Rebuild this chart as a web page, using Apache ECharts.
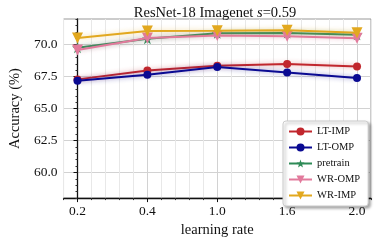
<!DOCTYPE html>
<html><head><meta charset="utf-8">
<script src="https://cdn.jsdelivr.net/npm/echarts@6/dist/echarts.min.js"></script>
<style>html,body{margin:0;padding:0;background:#fff}#c{width:374px;height:243px}</style>
</head><body><div id="c"></div>
<script>
const categories = ['0.2', '0.4', '1.0', '1.6', '2.0'];
const yTickLabels = [60, 62.5, 65, 67.5, 70];
const seriesNames = ['LT-IMP', 'LT-OMP', 'pretrain', 'WR-OMP', 'WR-IMP'];
const ltImp   = [67.28, 67.97, 68.35, 68.48, 68.28];
const ltOmp   = [67.18, 67.64, 68.25, 67.82, 67.39];
const pretrain= [69.75, 70.45, 70.88, 70.9, 70.76];
const wrOmp   = [69.58, 70.52, 70.71, 70.66, 70.5];
const wrImp   = [70.51, 71.06, 71.08, 71.12, 70.92];

const colors = ['#c1272d', '#0a0a92', '#2e8b57', '#e27a9c', '#e2a81f'];
const shadows = ['rgba(193,39,45,0.45)', 'rgba(10,10,146,0.45)', 'rgba(46,139,87,0.45)', 'rgba(226,122,156,0.45)', 'rgba(226,168,31,0.45)'];
const symbols = ['circle', 'circle',
  'path://M0,-10 L2.35,-3.24 L9.51,-3.09 L3.8,1.24 L5.88,8.09 L0,4 L-5.88,8.09 L-3.8,1.24 L-9.51,-3.09 L-2.35,-3.24 Z',
  'triangle', 'triangle'];
const symbolSizes = [8, 8, 11, 11, 11];
const rotations = [0, 0, 0, 180, 180];
const allValues = [ltImp, ltOmp, pretrain, wrOmp, wrImp];

const font = 'Liberation Serif, Times New Roman, serif';
const chart = echarts.init(document.getElementById('c'), null, {renderer: 'canvas'});

const series = allValues.map((vals, k) => ({
  name: seriesNames[k],
  type: 'line',
  xAxisIndex: 0, yAxisIndex: 0,
  data: vals.map((v, i) => [i, v]),
  symbol: symbols[k],
  symbolSize: symbolSizes[k],
  symbolRotate: rotations[k],
  showAllSymbol: true,
  lineStyle: {color: colors[k], width: 2, shadowColor: shadows[k], shadowBlur: 5},
  itemStyle: {color: colors[k]},
  z: 3 + k,
  animation: false
}));

chart.setOption({
  animation: false,
  title: {
    text: '{a|ResNet-18 Imagenet }{i|s}{a|=0.59}',
    left: 210, top: 1, textAlign: 'center',
    textStyle: {fontWeight: 'normal', rich: {
      a: {fontFamily: font, fontSize: 14.5, fontWeight: 'normal', color: '#111'},
      i: {fontFamily: font, fontSize: 14.5, fontWeight: 'normal', fontStyle: 'italic', color: '#111'}
    }}
  },
  grid: {left: 50, right: 3, top: 19, bottom: 40, show: true, borderColor: '#999', borderWidth: 1, backgroundColor: 'transparent'},
  legend: {
    orient: 'vertical', left: 283, top: 121,
    data: seriesNames,
    itemWidth: 23, itemHeight: 10, itemGap: 5,
    padding: [5, 8, 5, 5],
    backgroundColor: '#fff', borderColor: '#ccc', borderWidth: 1, borderRadius: 3,
    shadowColor: 'rgba(0,0,0,0.35)', shadowBlur: 3, shadowOffsetX: 2, shadowOffsetY: 2,
    textStyle: {fontFamily: font, fontSize: 10.5, color: '#111'}
  },
  xAxis: [{
    type: 'value', min: -0.2, max: 4.2, interval: 0.2,
    name: 'learning rate', nameLocation: 'middle', nameGap: 22,
    nameTextStyle: {fontFamily: font, fontSize: 14.5, color: '#111'},
    axisLine: {show: true, lineStyle: {color: '#111', width: 1.3}},
    axisTick: {show: true, length: 2, lineStyle: {color: '#333'}},
    axisLabel: {fontFamily: font, fontSize: 13.5, color: '#111', margin: 6,
      formatter: v => { const r = Math.round(v); return Math.abs(v - r) < 1e-6 && r >= 0 && r < categories.length ? categories[r] : ''; }},
    splitLine: {show: true, lineStyle: {color: ['#e8e8e8', '#d2d2d2', '#e8e8e8', '#e8e8e8', '#e8e8e8'], width: 1}}
  }, {
    type: 'value', min: -0.2, max: 4.2, position: 'bottom',
    axisLine: {show: false},
    axisTick: {show: true, length: 4, customValues: [0, 1, 2, 3, 4], lineStyle: {color: '#111'}},
    axisLabel: {show: false},
    splitLine: {show: false}
  }],
  yAxis: [{
    type: 'value', min: 58, max: 72, interval: 0.5,
    name: 'Accuracy (%)', nameLocation: 'middle', nameGap: 35,
    nameTextStyle: {fontFamily: font, fontSize: 14.5, color: '#111'},
    axisLine: {show: true, lineStyle: {color: '#111', width: 1.3}},
    axisTick: {show: true, length: 2, lineStyle: {color: '#333'}},
    axisLabel: {fontFamily: font, fontSize: 13.5, color: '#111', margin: 6,
      formatter: v => { const q = v / 2.5; return Math.abs(q - Math.round(q)) < 1e-6 && yTickLabels.some(t => Math.abs(t - v) < 1e-6) ? v.toFixed(1) : ''; }},
    splitLine: {show: true, lineStyle: {color: ['rgba(0,0,0,0)', 'rgba(0,0,0,0)', 'rgba(0,0,0,0)', 'rgba(0,0,0,0)', '#d2d2d2'], width: 1}}
  }, {
    type: 'value', min: 58, max: 72, position: 'left',
    axisLine: {show: false},
    axisTick: {show: true, length: 4, customValues: yTickLabels, lineStyle: {color: '#111'}},
    axisLabel: {show: false},
    splitLine: {show: false}
  }],
  series: series
});
</script></body></html>
